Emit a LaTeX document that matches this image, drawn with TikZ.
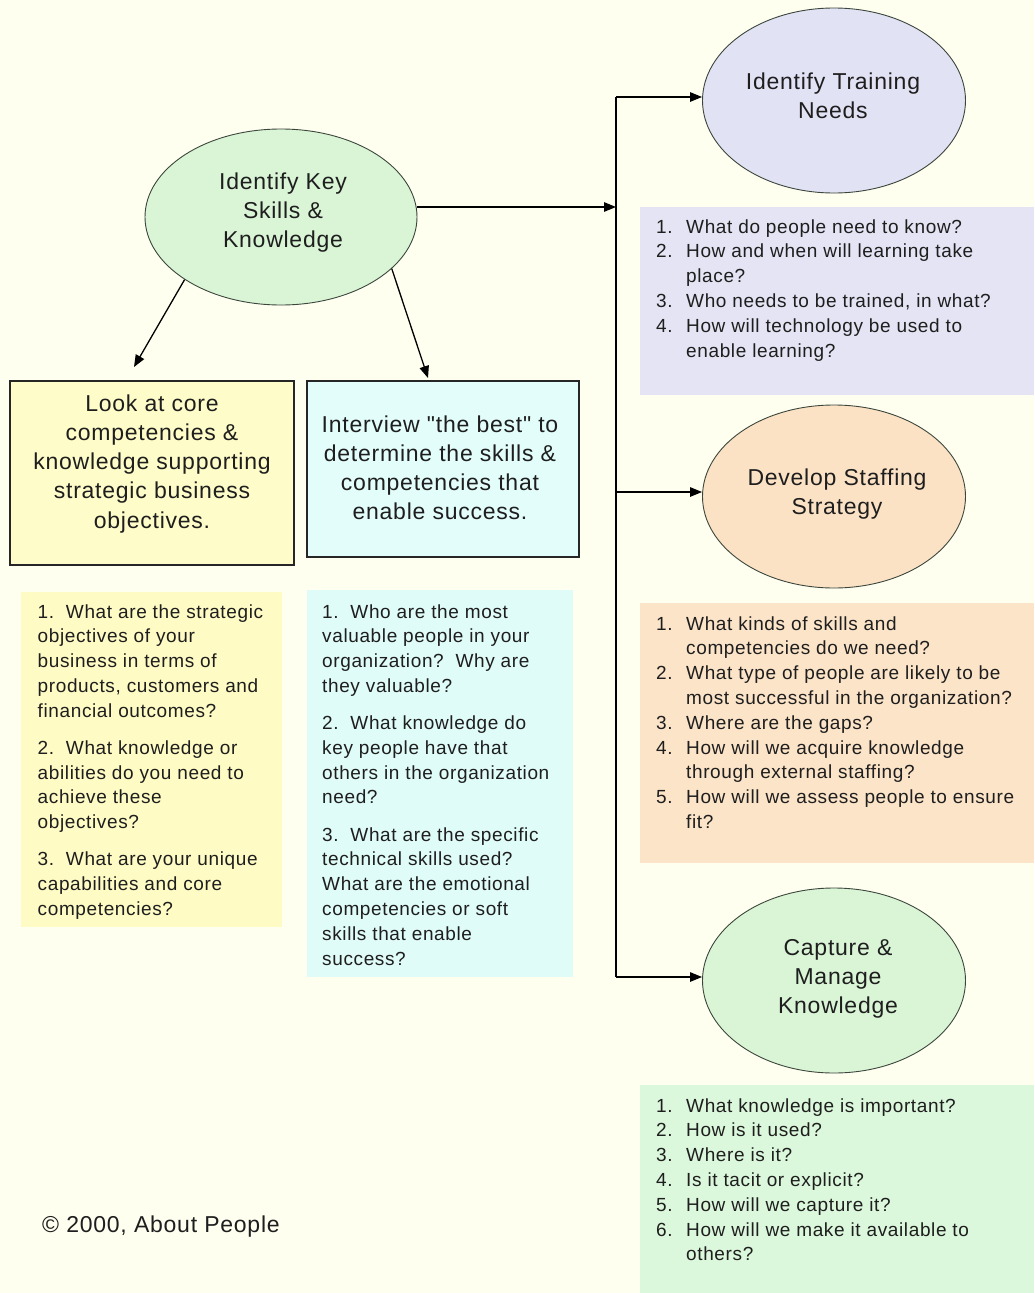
\documentclass[tikz,border=0pt]{standalone}
\usepackage{fontspec}
\setmainfont{Liberation Sans}[LetterSpace=3.3, Ligatures=TeXOff]
\usetikzlibrary{arrows.meta,shapes.geometric}
\definecolor{bgc}{HTML}{FFFFF0}
\definecolor{ellgreen}{HTML}{D9F5D6}
\definecolor{ellpurple}{HTML}{E2E2F5}
\definecolor{ellorange}{HTML}{FBE2C5}
\definecolor{boxyellow}{HTML}{FEFCC8}
\definecolor{boxcyan}{HTML}{E2FDFA}
\definecolor{qyellow}{HTML}{FEFBC4}
\definecolor{qcyan}{HTML}{E0FCF8}
\definecolor{qpurple}{HTML}{E4E4F4}
\definecolor{qorange}{HTML}{FCE4C8}
\definecolor{qgreen}{HTML}{DCF8DC}
\definecolor{edgec}{HTML}{3C463C}
\definecolor{txt}{HTML}{1E1E1E}
\newcommand\rowsL[1]{\begin{tabular}[t]{@{}l@{}}#1\end{tabular}}
\newcommand\rowsC[1]{\begin{tabular}[t]{@{}c@{}}#1\end{tabular}}
\newcommand\qnum[1]{\makebox[30pt][l]{#1}}
\newcommand\qind{\hspace*{30pt}}
\begin{document}
\begin{tikzpicture}[x=1pt,y=-1pt,
  ell/.style={ellipse, draw=edgec, line width=0.9pt, inner sep=0pt},
  framebox/.style={rectangle, draw=black!85, line width=1.3pt, inner sep=0pt},
  panel/.style={rectangle, inner sep=0pt, draw=none},
  bigtxt/.style={font=\fontsize{23}{29.3}\selectfont, inner sep=0pt, anchor=base, text=txt},
  qtxt/.style={font=\fontsize{19}{24.8}\selectfont, inner sep=0pt, anchor=base west, text=txt},
  conn/.style={line width=1.3pt, -{Triangle[length=12pt,width=9.5pt]}},
  trunkline/.style={line width=1.3pt}]
\fill[bgc] (0,0) rectangle (1034,1293);
\useasboundingbox (0,0) rectangle (1034,1293);

% panels
\node[panel, fill=qpurple, minimum width=394pt, minimum height=188pt] (trbox) at (837,301) {};
\node[panel, fill=qorange, minimum width=394pt, minimum height=260pt] (stbox) at (837,733) {};
\node[panel, fill=qgreen, minimum width=394pt, minimum height=208pt] (capbox) at (837,1189) {};
\node[panel, fill=qyellow, minimum width=261pt, minimum height=335pt] (yqbox) at (151.5,759.5) {};
\node[panel, fill=qcyan, minimum width=266pt, minimum height=387pt] (cqbox) at (440,783.5) {};
\node[framebox, fill=boxyellow, minimum width=284pt, minimum height=184pt] (corebox) at (152,473) {};
\node[framebox, fill=boxcyan, minimum width=272pt, minimum height=176pt] (bestbox) at (443,469) {};

% ellipses
\node[ell, fill=ellgreen, minimum width=272pt, minimum height=176pt] (key) at (281,217) {};
\node[ell, fill=ellpurple, minimum width=263pt, minimum height=185pt] (train) at (834,100.5) {};
\node[ell, fill=ellorange, minimum width=263pt, minimum height=183pt] (staff) at (834,496.5) {};
\node[ell, fill=ellgreen, minimum width=263pt, minimum height=185pt] (capture) at (834,980.5) {};

% titles
\node[bigtxt] (keytxt) at (283,189) {\rowsC{Identify Key\\Skills \&\\Knowledge}};
\node[bigtxt] (traintxt) at (833,89) {\rowsC{Identify Training\\Needs}};
\node[bigtxt] (stafftxt) at (837,485) {\rowsC{Develop Staffing\\Strategy}};
\node[bigtxt] (captxt) at (838,955) {\rowsC{Capture \&\\Manage\\Knowledge}};
\node[bigtxt] (coretxt) at (152,411) {\rowsC{Look at core\\competencies \&\\knowledge supporting\\strategic business\\objectives.}};
\node[bigtxt] (besttxt) at (440,432) {\rowsC{Interview "the best" to\\determine the skills \&\\competencies that\\enable success.}};

% question lists
\node[qtxt] (trlist) at (656,233) {\rowsL{%
\qnum{1.}What do people need to know?\\
\qnum{2.}How and when will learning take\\
\qind place?\\
\qnum{3.}Who needs to be trained, in what?\\
\qnum{4.}How will technology be used to\\
\qind enable learning?}};
\node[qtxt] (stlist) at (656,630) {\rowsL{%
\qnum{1.}What kinds of skills and\\
\qind competencies do we need?\\
\qnum{2.}What type of people are likely to be\\
\qind most successful in the organization?\\
\qnum{3.}Where are the gaps?\\
\qnum{4.}How will we acquire knowledge\\
\qind through external staffing?\\
\qnum{5.}How will we assess people to ensure\\
\qind fit?}};
\node[qtxt] (caplist) at (656,1112) {\rowsL{%
\qnum{1.}What knowledge is important?\\
\qnum{2.}How is it used?\\
\qnum{3.}Where is it?\\
\qnum{4.}Is it tacit or explicit?\\
\qnum{5.}How will we capture it?\\
\qnum{6.}How will we make it available to\\
\qind others?}};
\node[qtxt] (ylist) at (37.5,618) {\rowsL{%
1.\ \ What are the strategic\\
objectives of your\\
business in terms of\\
products, customers and\\
financial outcomes?\\[12.3pt]
2.\ \ What knowledge or\\
abilities do you need to\\
achieve these\\
objectives?\\[12.3pt]
3.\ \ What are your unique\\
capabilities and core\\
competencies?}};
\node[qtxt] (clist) at (322,618) {\rowsL{%
1.\ \ Who are the most\\
valuable people in your\\
organization?\ \ Why are\\
they valuable?\\[12.3pt]
2.\ \ What knowledge do\\
key people have that\\
others in the organization\\
need?\\[12.3pt]
3.\ \ What are the specific\\
technical skills used?\\
What are the emotional\\
competencies or soft\\
skills that enable\\
success?}};

\node[font=\fontsize{23}{28}\selectfont, anchor=base west, inner sep=0pt, text=txt] (copy) at (42,1232) {© 2000, About People};

% connectors
\coordinate (jTop) at (616,97);
\coordinate (jKey) at (616,207);
\coordinate (jMid) at (616,492);
\coordinate (jBot) at (616,977);
\coordinate (tipA) at (134,367);
\coordinate (tipB) at (428,378);
\draw[trunkline] (jTop) -- (jBot);
\draw[conn] (key.east |- jKey) -- (jKey);
\draw[conn] (jTop) -- (jTop -| train.west);
\draw[conn] (jMid) -- (jMid -| staff.west);
\draw[conn] (jBot) -- (jBot -| capture.west);
\draw[conn] (key.213) -- (tipA);
\draw[conn] (key.-25) -- (tipB);
\end{tikzpicture}
\end{document}
